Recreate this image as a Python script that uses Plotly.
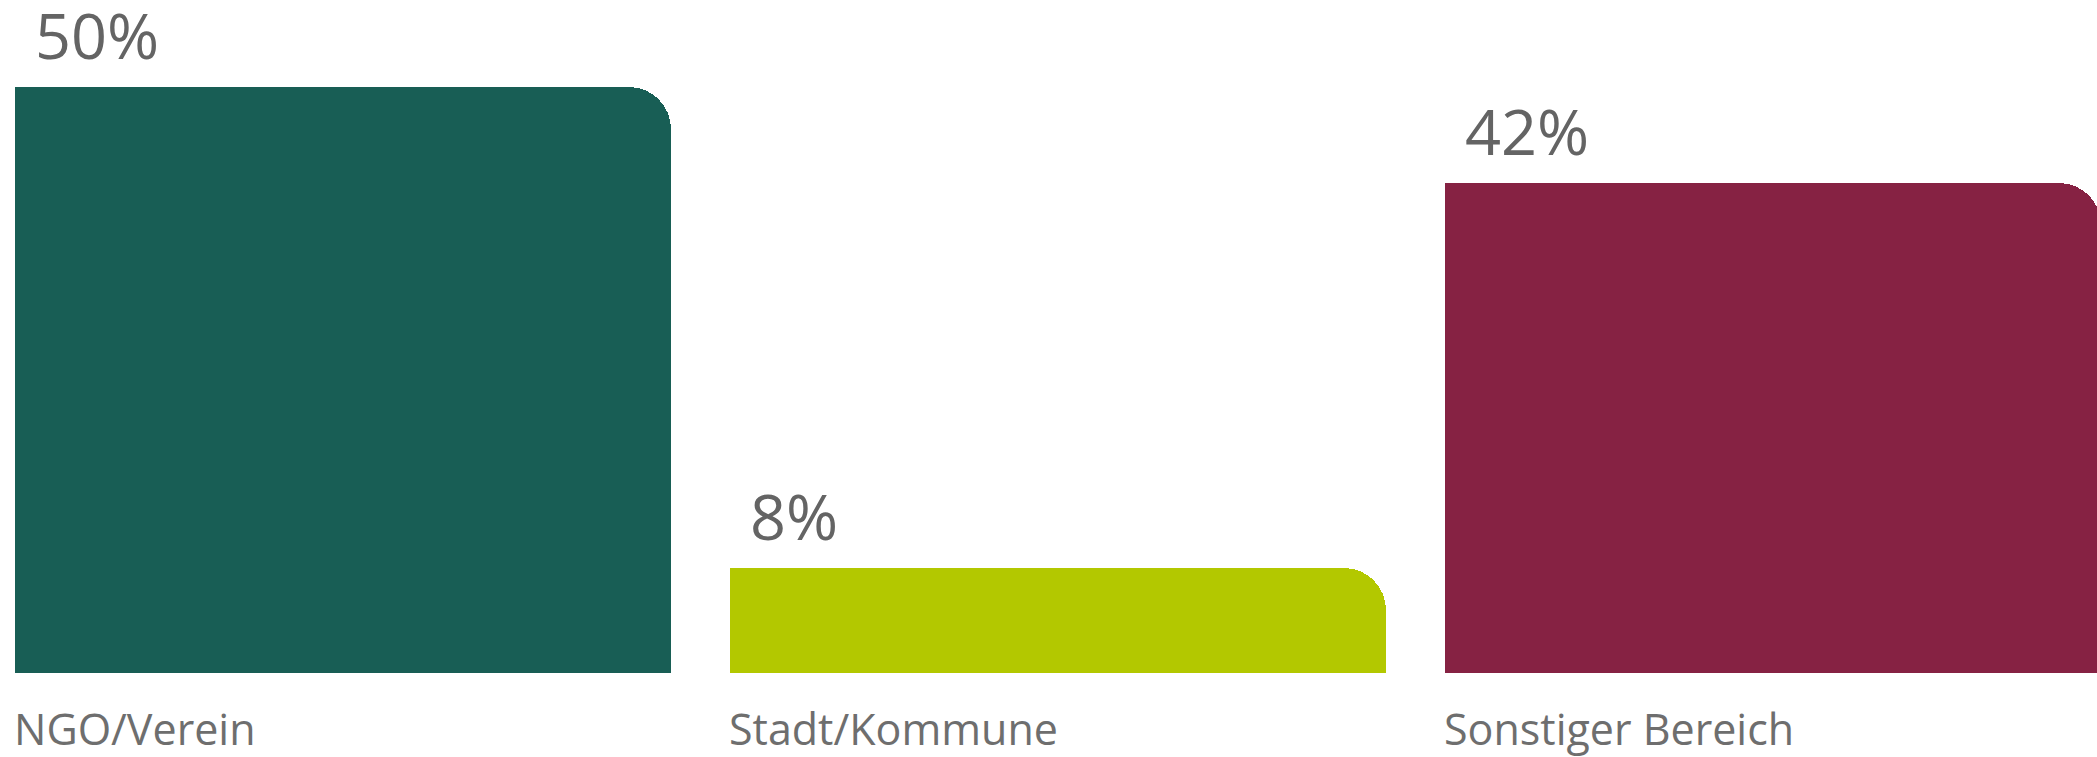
import plotly.graph_objects as go

categories = ["NGO/Verein", "Stadt/Kommune", "Sonstiger Bereich"]
percent_labels = ["50%", "8%", "42%"]
bar_values = [50, 9, 41.8]
colors = ["#185e55", "#b3c800", "#862243"]

BAR_W = 0.917
xs = list(range(len(categories)))

fig = go.Figure()
# rounded full bar (top corners rounded)
fig.add_trace(go.Bar(
    x=xs, y=bar_values, width=BAR_W,
    marker=dict(color=colors, line=dict(width=0), cornerradius=42),
    hoverinfo="skip", showlegend=False,
))
# left half square-cornered bar to keep top-left corner sharp
fig.add_trace(go.Bar(
    x=xs, y=bar_values, width=BAR_W / 2, offset=-BAR_W / 2,
    marker=dict(color=colors, line=dict(width=0)),
    hoverinfo="skip", showlegend=False,
))

annotations = []
for i, (cat, lab, v) in enumerate(zip(categories, percent_labels, bar_values)):
    annotations.append(dict(
        x=i - BAR_W / 2, y=v, xref="x", yref="y", text=lab,
        xanchor="left", yanchor="bottom", xshift=18, yshift=8,
        showarrow=False, font=dict(family="Open Sans", size=63, color="#646464"),
    ))
    annotations.append(dict(
        x=i - BAR_W / 2, y=0, xref="x", yref="y", text=cat,
        xanchor="left", yanchor="top", xshift=-3, yshift=-24,
        showarrow=False, font=dict(family="Open Sans", size=43, color="#6e6e6e"),
    ))

fig.update_layout(
    width=2097, height=757,
    margin=dict(l=0, r=0, t=0, b=84),
    barmode="overlay", bargap=0,
    plot_bgcolor="white", paper_bgcolor="white",
    xaxis=dict(range=[-0.48, 2.453], visible=False, fixedrange=True),
    yaxis=dict(range=[0, 57.42], visible=False, fixedrange=True),
    annotations=annotations,
)

fig.write_html("out.html", config={"displayModeBar": False})
